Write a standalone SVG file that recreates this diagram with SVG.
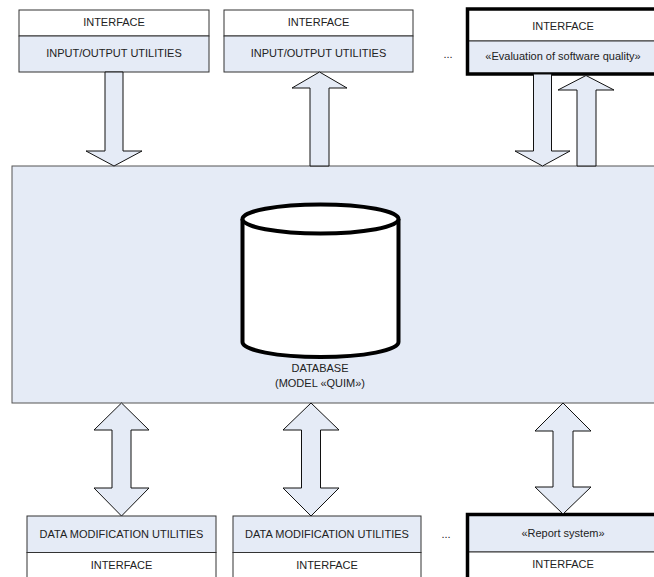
<svg xmlns="http://www.w3.org/2000/svg" width="654" height="577" viewBox="0 0 654 577">
<style>
text{font-family:"Liberation Sans",Arial,sans-serif;font-size:11px;fill:#222;text-anchor:middle}
.w{fill:#fff;stroke:#333;stroke-width:1}
.b{fill:#e5ebf6;stroke:#333;stroke-width:1}
.thick{fill:none;stroke:#000;stroke-width:3.5}
.arr{fill:#e5ebf6;stroke:#111;stroke-width:1;stroke-linejoin:miter}
</style>
<rect width="654" height="577" fill="#fff"/>
<g id="database">
<rect x="12" y="166" width="650" height="237" fill="#e5ebf6" stroke="#555" stroke-width="1"/>
<path d="M242.5,219 V342 A78,15 0 0 0 398.5,342 V219" fill="#fff" stroke="#000" stroke-width="4"/>
<ellipse cx="320.5" cy="219" rx="78" ry="14.5" fill="#fff" stroke="#000" stroke-width="4"/>
<text x="320" y="372">DATABASE</text>
<text x="320" y="387">(MODEL «QUIM»)</text>
</g>
<g id="io1">
<rect class="w" x="19" y="10" width="190" height="26"/>
<rect class="b" x="19" y="36" width="190" height="36"/>
<text x="114" y="26">INTERFACE</text>
<text x="114" y="57">INPUT/OUTPUT UTILITIES</text>
</g>
<g id="io2">
<rect class="w" x="224" y="10" width="189" height="26"/>
<rect class="b" x="224" y="36" width="189" height="36"/>
<text x="318.5" y="26">INTERFACE</text>
<text x="318.5" y="57">INPUT/OUTPUT UTILITIES</text>
</g>
<g id="dots-top"><text x="448" y="58">...</text></g>
<g id="quality">
<rect class="w" x="467.5" y="9" width="200" height="32" stroke="none"/>
<rect class="b" x="467.5" y="41" width="200" height="33"/>
<rect class="thick" x="467.5" y="9" width="200" height="65"/>
<text x="563" y="30">INTERFACE</text>
<text x="563" y="60">«Evaluation of software quality»</text>
</g>
<g id="dm1">
<rect class="b" x="27" y="516" width="189" height="36.5"/>
<rect class="w" x="27" y="552.5" width="189" height="40"/>
<text x="121.5" y="538">DATA MODIFICATION UTILITIES</text>
<text x="121.5" y="569">INTERFACE</text>
</g>
<g id="dm2">
<rect class="b" x="233" y="516" width="188" height="36.5"/>
<rect class="w" x="233" y="552.5" width="188" height="40"/>
<text x="327" y="538">DATA MODIFICATION UTILITIES</text>
<text x="327" y="569">INTERFACE</text>
</g>
<g id="dots-bottom"><text x="446" y="538">...</text></g>
<g id="report">
<rect class="b" x="467.5" y="514.5" width="200" height="37.5"/>
<rect class="w" x="467.5" y="552" width="200" height="40"/>
<rect class="thick" x="467.5" y="514.5" width="200" height="80"/>
<text x="563" y="537">«Report system»</text>
<text x="563" y="568">INTERFACE</text>
</g>
<g id="connectors">
<polygon class="arr" points="105,72 123,72 123,151 142,151 114,166 86,151 105,151"/>
<polygon class="arr" points="310,166 329,166 329,88 347,88 319.5,72 292,88 310,88"/>
<polygon class="arr" points="533.5,74 551.5,74 551.5,151 570,151 542.5,166 515,151 533.5,151"/>
<polygon class="arr" points="577,166 596,166 596,90 614,90 586,75.5 558,90 577,90"/>
<polygon class="arr" points="121.5,403 149,430 131,430 131,488 149,488 121.5,516 94,488 112,488 112,430 94,430"/>
<polygon class="arr" points="311,403 339,430 320.5,430 320.5,488 339,488 311,516 283,488 301.5,488 301.5,430 283,430"/>
<polygon class="arr" points="563,403 591,431 573,431 573,487 591,487 563,514 535,487 553,487 553,431 535,431"/>
</g>
</svg>
